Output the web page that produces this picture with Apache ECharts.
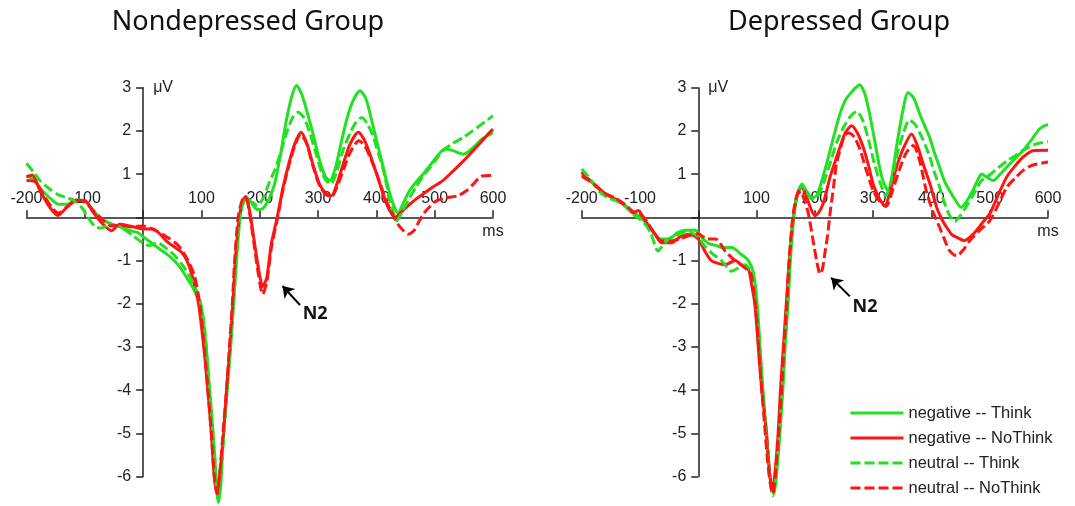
<!DOCTYPE html>
<html>
<head>
<meta charset="utf-8">
<script src="https://cdn.jsdelivr.net/npm/echarts@6/dist/echarts.min.js"></script>
<style>
	html, body { margin: 0; padding: 0; background: #fff; }
	#erpDiv { width: 1075px; height: 506px; }
</style>
</head>
<body>
<div id="erpDiv"></div>
<script>
// [ms, µV] pairs
const negThinkNondep = [[-200,0.95],[-190,0.9],[-175,0.65],[-160,0.45],[-145,0.3],[-130,0.3],[-115,0.4],[-100,0.38],[-85,0.15],[-70,-0.05],[-55,-0.15],[-40,-0.22],[-25,-0.3],[-10,-0.35],[0,-0.45],[15,-0.6],[30,-0.75],[45,-0.9],[60,-1.1],[75,-1.4],[90,-1.75],[100,-2.1],[108,-3.0],[114,-4.0],[120,-5.0],[125,-6.0],[129,-6.6],[133,-6.2],[138,-5.0],[144,-4.0],[150,-3.0],[155,-2.0],[160,-1.0],[166,0.0],[172,0.35],[178,0.45],[185,0.35],[195,0.18],[205,0.2],[215,0.4],[225,0.75],[235,1.4],[245,2.2],[255,2.8],[263,3.05],[272,2.85],[282,2.4],[292,1.9],[302,1.35],[312,0.95],[320,0.85],[330,1.15],[340,1.75],[350,2.3],[360,2.7],[372,2.93],[382,2.75],[390,2.35],[400,1.8],[411,1.2],[420,0.7],[429,0.3],[437,0.1],[447,0.35],[457,0.62],[470,0.85],[480,1.0],[492,1.2],[503,1.39],[517,1.58],[530,1.55],[549,1.46],[565,1.6],[580,1.8],[600,1.96]];
const negNoThinkNondep = [[-200,0.94],[-190,0.98],[-177,0.62],[-160,0.23],[-146,0.04],[-131,0.23],[-114,0.39],[-100,0.39],[-86,0.12],[-69,-0.16],[-54,-0.31],[-40,-0.16],[-23,-0.2],[0,-0.27],[17,-0.27],[30,-0.4],[40,-0.55],[55,-0.7],[65,-0.8],[75,-1.0],[85,-1.4],[95,-2.0],[104,-3.0],[111,-4.0],[117,-5.0],[122,-6.0],[127,-6.4],[131,-6.0],[138,-5.0],[143,-4.0],[149,-3.0],[154,-2.0],[158,-1.0],[165,0.0],[171,0.4],[176,0.48],[182,0.2],[190,-0.5],[198,-1.2],[205,-1.6],[212,-1.4],[220,-0.6],[230,0.0],[240,0.7],[250,1.25],[260,1.7],[271,1.97],[281,1.7],[291,1.23],[303,0.75],[314,0.55],[323,0.5],[333,0.8],[343,1.23],[355,1.7],[369,1.97],[379,1.8],[389,1.46],[398,1.1],[406,0.77],[415,0.4],[423,0.15],[432,0.0],[445,0.15],[457,0.3],[468,0.42],[480,0.54],[497,0.7],[514,0.85],[530,1.05],[549,1.3],[563,1.5],[577,1.7],[590,1.9],[600,2.04]];
const neuThinkNondep = [[-200,1.25],[-188,1.05],[-177,0.85],[-160,0.65],[-145,0.52],[-130,0.45],[-118,0.38],[-105,0.22],[-95,0.0],[-82,-0.22],[-70,-0.25],[-58,-0.15],[-45,-0.2],[-30,-0.3],[-15,-0.45],[0,-0.6],[10,-0.65],[25,-0.6],[40,-0.72],[55,-0.9],[70,-1.15],[85,-1.5],[97,-1.9],[105,-2.5],[111,-3.5],[117,-4.5],[123,-5.6],[128,-6.5],[132,-6.3],[137,-5.3],[143,-4.2],[149,-3.1],[155,-2.0],[160,-1.0],[166,0.0],[172,0.35],[178,0.42],[186,0.35],[196,0.27],[206,0.45],[216,0.8],[226,1.1],[236,1.5],[246,1.95],[256,2.3],[266,2.43],[276,2.3],[286,1.95],[296,1.5],[306,1.05],[314,0.85],[322,0.77],[332,1.05],[343,1.55],[355,1.95],[365,2.2],[375,2.31],[385,2.15],[395,1.85],[403,1.5],[411,1.15],[420,0.6],[428,0.15],[435,-0.08],[445,0.15],[457,0.45],[468,0.7],[480,0.95],[492,1.15],[503,1.35],[515,1.55],[530,1.7],[549,1.85],[565,2.0],[580,2.15],[600,2.35]];
const neuNoThinkNondep = [[-200,0.85],[-185,0.82],[-170,0.5],[-155,0.2],[-145,0.1],[-130,0.25],[-115,0.4],[-100,0.35],[-85,0.15],[-70,-0.05],[-55,-0.2],[-40,-0.18],[-20,-0.22],[0,-0.2],[20,-0.3],[40,-0.45],[60,-0.65],[75,-0.95],[88,-1.35],[97,-2.0],[104,-2.9],[111,-4.0],[117,-5.0],[122,-6.0],[127,-6.4],[131,-6.0],[137,-5.0],[143,-4.0],[148,-3.0],[153,-2.0],[157,-1.0],[163,0.0],[170,0.4],[176,0.45],[182,0.15],[190,-0.6],[198,-1.35],[205,-1.78],[212,-1.5],[220,-0.7],[230,-0.05],[240,0.65],[250,1.2],[260,1.65],[270,1.92],[280,1.72],[291,1.2],[303,0.72],[314,0.52],[323,0.48],[333,0.72],[343,1.08],[355,1.5],[370,1.77],[380,1.65],[389,1.4],[398,1.1],[406,0.8],[415,0.45],[423,0.2],[432,-0.05],[442,-0.25],[455,-0.39],[465,-0.3],[473,-0.1],[482,0.1],[492,0.25],[503,0.38],[520,0.45],[540,0.5],[555,0.62],[567,0.78],[580,0.95],[600,0.97]];

const negThinkDep = [[-200,1.0],[-185,0.85],[-170,0.65],[-155,0.5],[-140,0.4],[-125,0.27],[-110,0.1],[-95,-0.05],[-80,-0.3],[-65,-0.5],[-50,-0.5],[-35,-0.35],[-20,-0.3],[-5,-0.3],[5,-0.45],[17,-0.6],[30,-0.65],[40,-0.7],[57,-0.7],[74,-0.86],[86,-1.0],[95,-1.3],[101,-2.0],[106,-3.0],[111,-4.0],[117,-5.0],[123,-6.0],[130,-6.4],[134,-6.0],[140,-5.0],[145,-4.0],[149,-3.0],[154,-2.0],[158,-1.0],[164,0.0],[170,0.5],[178,0.77],[186,0.6],[195,0.45],[203,0.5],[212,0.85],[220,1.23],[232,1.85],[243,2.39],[252,2.7],[260,2.85],[270,3.0],[277,3.07],[286,2.85],[294,2.39],[303,1.75],[311,1.16],[318,0.8],[326,0.62],[333,1.0],[340,1.62],[350,2.4],[360,2.89],[370,2.75],[380,2.39],[389,2.1],[397,1.85],[405,1.5],[414,1.16],[422,0.85],[431,0.62],[441,0.4],[451,0.23],[461,0.38],[471,0.62],[479,0.85],[486,1.0],[496,0.92],[506,0.85],[518,1.0],[529,1.16],[543,1.35],[557,1.54],[572,1.8],[586,2.05],[600,2.15]];
const negNoThinkDep = [[-200,1.05],[-190,0.9],[-177,0.75],[-160,0.55],[-143,0.43],[-126,0.27],[-111,0.1],[-103,0.16],[-91,-0.08],[-74,-0.39],[-63,-0.59],[-46,-0.59],[-29,-0.43],[-14,-0.39],[0,-0.5],[11,-0.78],[22,-1.0],[30,-1.05],[46,-1.1],[63,-1.0],[74,-1.1],[86,-1.2],[92,-1.6],[97,-2.0],[103,-3.0],[109,-4.0],[117,-5.0],[123,-6.0],[127,-6.3],[131,-6.0],[137,-5.0],[141,-4.0],[146,-3.0],[151,-2.0],[156,-1.0],[163,0.0],[170,0.55],[177,0.7],[186,0.46],[193,0.2],[200,0.04],[207,0.12],[214,0.31],[220,0.6],[226,0.93],[235,1.3],[243,1.62],[252,1.95],[263,2.12],[273,1.95],[283,1.62],[292,1.2],[300,0.77],[310,0.45],[320,0.27],[330,0.65],[340,1.16],[352,1.6],[366,1.93],[376,1.65],[386,1.23],[398,0.75],[409,0.23],[418,-0.05],[426,-0.23],[435,-0.4],[443,-0.46],[457,-0.54],[467,-0.45],[477,-0.31],[489,-0.1],[500,0.08],[514,0.5],[529,0.93],[543,1.18],[557,1.39],[574,1.54],[600,1.55]];
const neuThinkDep = [[-200,1.12],[-185,0.88],[-170,0.6],[-155,0.45],[-140,0.38],[-125,0.25],[-110,0.05],[-95,-0.1],[-82,-0.35],[-69,-0.78],[-58,-0.6],[-45,-0.45],[-30,-0.38],[-15,-0.35],[0,-0.45],[10,-0.65],[25,-0.85],[40,-1.0],[57,-1.25],[69,-1.17],[80,-1.1],[88,-1.2],[95,-1.5],[100,-2.0],[105,-3.0],[110,-4.0],[116,-5.0],[122,-6.0],[128,-6.45],[133,-6.0],[139,-5.0],[144,-4.0],[148,-3.0],[153,-2.0],[157,-1.0],[163,0.0],[170,0.55],[177,0.73],[186,0.58],[195,0.42],[205,0.5],[215,0.8],[225,1.2],[238,1.75],[250,2.1],[262,2.35],[272,2.45],[282,2.25],[292,1.8],[302,1.25],[312,0.8],[322,0.5],[332,0.9],[342,1.5],[352,1.95],[362,2.25],[372,2.15],[382,1.9],[390,1.65],[397,1.4],[405,1.05],[414,0.7],[422,0.35],[431,0.05],[440,-0.1],[450,0.05],[460,0.25],[471,0.5],[486,0.85],[500,0.98],[515,1.15],[529,1.3],[543,1.42],[557,1.55],[580,1.7],[600,1.75]];
const neuNoThinkDep = [[-200,0.95],[-188,0.85],[-175,0.72],[-160,0.55],[-143,0.45],[-126,0.3],[-111,0.12],[-98,0.05],[-88,-0.1],[-74,-0.4],[-63,-0.55],[-48,-0.55],[-32,-0.5],[-15,-0.42],[0,-0.38],[15,-0.5],[30,-0.5],[46,-0.78],[63,-1.0],[80,-1.17],[90,-1.3],[96,-1.8],[101,-2.5],[106,-3.5],[112,-4.5],[118,-5.5],[124,-6.2],[128,-6.4],[132,-6.0],[138,-5.0],[143,-4.0],[147,-3.0],[152,-2.0],[156,-1.0],[162,0.0],[169,0.5],[176,0.6],[183,0.35],[189,0.08],[197,-0.54],[203,-1.0],[209,-1.31],[213,-1.2],[217,-0.85],[222,-0.4],[226,0.08],[232,0.7],[237,1.23],[244,1.6],[251,1.89],[258,1.95],[268,1.85],[278,1.55],[288,1.1],[300,0.62],[312,0.35],[322,0.25],[334,0.65],[345,1.1],[357,1.5],[369,1.66],[380,1.3],[391,0.62],[402,0.15],[414,-0.23],[422,-0.5],[431,-0.77],[443,-0.89],[455,-0.75],[466,-0.54],[483,-0.3],[500,-0.08],[515,0.3],[529,0.69],[543,0.9],[557,1.08],[572,1.2],[600,1.28]];

const conditionNames = ['negative -- Think', 'negative -- NoThink', 'neutral -- Think', 'neutral -- NoThink'];
const panelTitles = ['Nondepressed Group', 'Depressed Group'];
const xTicks = { min: -200, max: 600, step: 100 };
const yTicks = { min: -6, max: 3, step: 1 };
// N2 arrow tail -> tip, and label position, in [ms, µV]
const n2ArrowNondep = [[269, -2.03], [239, -1.59]];
const n2ArrowDep = [[260, -1.83], [228, -1.40]];
const n2LabelNondep = [295, -2.24];
const n2LabelDep = [286, -2.07];

const GREEN = '#22e022';
const RED = '#ff1414';
const AXIS = '#222';
const FONT = '"Liberation Sans", Arial, sans-serif';

// plot boxes (px)
const gridBoxes = [
	{ left: 26.5, width: 466.5, top: 87.7, height: 388.8 },
	{ left: 581.7, width: 466.3, top: 87.7, height: 388.8 }
];

let erpChart = echarts.init(document.getElementById('erpDiv'));

// axes cross at (0 ms, 0 µV): shift each axis from its grid edge to the zero line
let makeX = (idx) => ({
	type: 'value',
	gridIndex: idx,
	min: xTicks.min,
	max: xTicks.max,
	interval: xTicks.step,
	position: 'bottom',
	offset: -gridBoxes[idx].height * (0 - yTicks.min) / (yTicks.max - yTicks.min),
	name: 'ms',
	nameLocation: 'end',
	nameGap: 0,
	nameTextStyle: {
		color: AXIS,
		fontFamily: FONT,
		fontSize: 16,
		align: 'center',
		verticalAlign: 'top',
		padding: [6, 0, 0, 0]
	},
	axisLine: { onZero: false, lineStyle: { color: AXIS, width: 1.5 } },
	axisTick: { inside: true, length: 7, lineStyle: { color: AXIS, width: 1.5 } },
	axisLabel: {
		inside: true,
		margin: 11,
		color: AXIS,
		fontFamily: FONT,
		fontSize: 16,
		formatter: v => v === 0 ? '' : String(v)
	},
	splitLine: { show: false }
});

let makeY = (idx) => ({
	type: 'value',
	gridIndex: idx,
	min: yTicks.min,
	max: yTicks.max,
	interval: yTicks.step,
	position: 'left',
	offset: -gridBoxes[idx].width * (0 - xTicks.min) / (xTicks.max - xTicks.min),
	name: 'μV',
	nameLocation: 'end',
	nameGap: 0,
	nameTextStyle: {
		color: AXIS,
		fontFamily: FONT,
		fontSize: 16,
		align: 'left',
		verticalAlign: 'middle',
		padding: [0, 0, 0, 10]
	},
	axisLine: { show: true, onZero: false, lineStyle: { color: AXIS, width: 1.5 } },
	axisTick: { show: true, inside: false, length: 7, lineStyle: { color: AXIS, width: 1.5 } },
	axisLabel: {
		margin: 12,
		color: AXIS,
		fontFamily: FONT,
		fontSize: 16,
		formatter: v => v === 0 ? '' : String(v)
	},
	splitLine: { show: false }
});

let makeSeries = (name, data, idx, color, dashed) => ({
	name: name,
	type: 'line',
	xAxisIndex: idx,
	yAxisIndex: idx,
	data: data,
	smooth: 0.25,
	symbol: 'none',
	clip: false,
	z: dashed ? 3 : 2,
	itemStyle: { color: color },
	lineStyle: { color: color, width: 3, type: dashed ? [10, 4] : 'solid' }
});

let n2Marks = (arrow, label) => ({
	markLine: {
		silent: true,
		symbol: ['none', 'arrow'],
		symbolSize: 11,
		label: { show: false },
		lineStyle: { color: '#000', width: 2, type: 'solid' },
		data: [[{ coord: arrow[0] }, { coord: arrow[1] }]]
	},
	markPoint: {
		silent: true,
		symbol: 'circle',
		symbolSize: 0,
		label: {
			show: true,
			position: 'inside',
			formatter: 'N2',
			color: '#111',
			fontFamily: '"Noto Sans", sans-serif',
			fontWeight: 'bold',
			fontSize: 18
		},
		data: [{ coord: label }]
	}
});

let panels = [
	[negThinkNondep, negNoThinkNondep, neuThinkNondep, neuNoThinkNondep],
	[negThinkDep, negNoThinkDep, neuThinkDep, neuNoThinkDep]
];
let colors = [GREEN, RED, GREEN, RED];
let series = [];
panels.forEach((sets, idx) => {
	sets.forEach((d, k) => {
		series.push(makeSeries(conditionNames[k], d, idx, colors[k], k >= 2));
	});
});
// N2 annotations hang off the neutral -- NoThink series of each panel
Object.assign(series[3], n2Marks(n2ArrowNondep, n2LabelNondep));
Object.assign(series[7], n2Marks(n2ArrowDep, n2LabelDep));

let erpOption = {
	animation: false,
	backgroundColor: '#fff',
	grid: gridBoxes.map(b => Object.assign({ outerBoundsMode: 'none' }, b)),
	xAxis: [makeX(0), makeX(1)],
	yAxis: [makeY(0), makeY(1)],
	legend: {
		orient: 'vertical',
		left: 849,
		top: 403,
		padding: 0,
		itemWidth: 53,
		itemHeight: 20,
		itemGap: 5,
		itemStyle: { opacity: 0 },
		lineStyle: { width: 3 },
		data: conditionNames,
		textStyle: { color: AXIS, fontFamily: FONT, fontSize: 16.5, lineHeight: 20 }
	},
	graphic: [{
		type: 'text',
		x: 248,
		y: 22,
		style: {
			text: panelTitles[0],
			fill: '#111',
			fontFamily: '"Noto Sans", sans-serif',
			fontSize: 27,
			align: 'center',
			verticalAlign: 'middle'
		}
	}, {
		type: 'text',
		x: 839,
		y: 22,
		style: {
			text: panelTitles[1],
			fill: '#111',
			fontFamily: '"Noto Sans", sans-serif',
			fontSize: 27,
			align: 'center',
			verticalAlign: 'middle'
		}
	}],
	series: series
};
erpChart.setOption(erpOption);
</script>
</body>
</html>
